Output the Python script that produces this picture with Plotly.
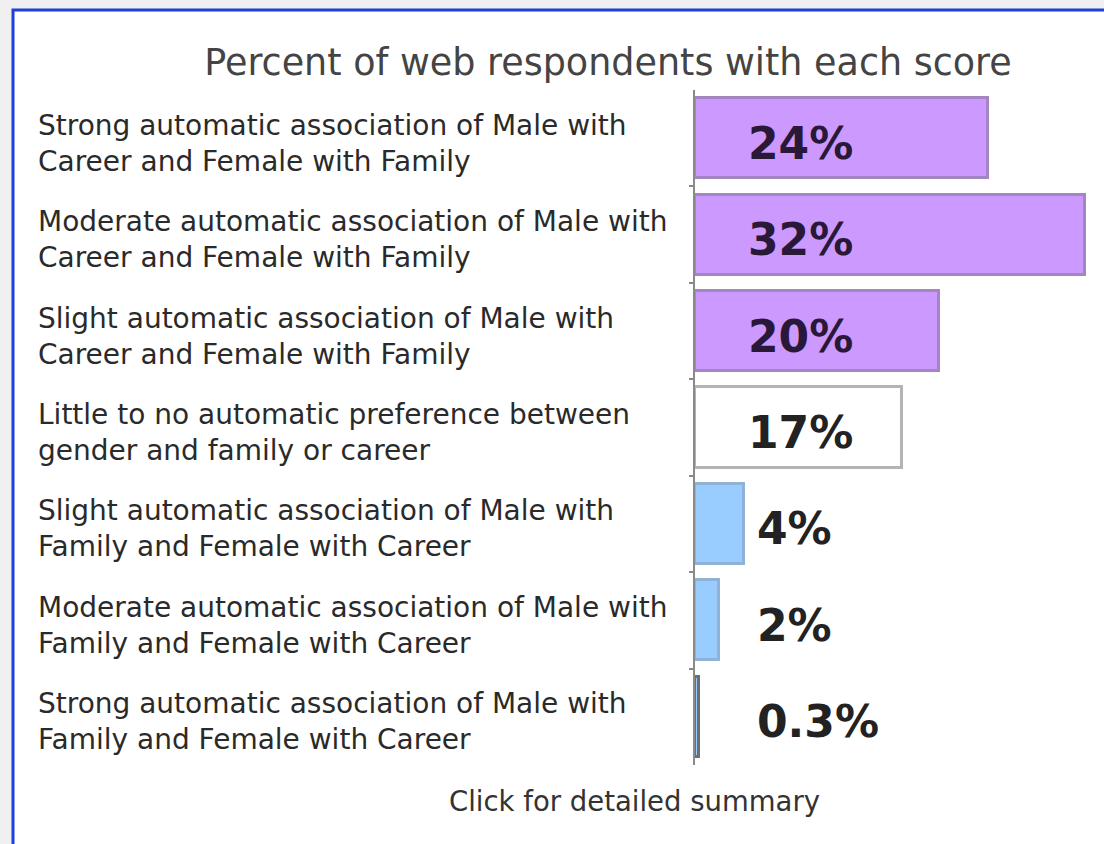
import plotly.graph_objects as go

# Score categories (top to bottom), each split onto two lines
categories = [
    "Strong automatic association of Male with<br>Career and Female with Family",
    "Moderate automatic association of Male with<br>Career and Female with Family",
    "Slight automatic association of Male with<br>Career and Female with Family",
    "Little to no automatic preference between<br>gender and family or career",
    "Slight automatic association of Male with<br>Family and Female with Career",
    "Moderate automatic association of Male with<br>Family and Female with Career",
    "Strong automatic association of Male with<br>Family and Female with Career",
]
percents = [24, 32, 20, 17, 4, 2, 0.3]
value_labels = ["24%", "32%", "20%", "17%", "4%", "2%", "0.3%"]

fill_colors = ["#cc99ff", "#cc99ff", "#cc99ff", "#ffffff", "#99ccff", "#99ccff", "#99ccff"]
edge_colors = ["#a385c2", "#a385c2", "#a385c2", "#b4b4b4", "#8fb2d6", "#8fb2d6", "#6e6e6e"]
label_colors = ["#2a1838", "#2a1838", "#2a1838", "#222222", "#222222", "#222222", "#222222"]

W, H = 1104, 844
M_L, M_R, M_T, M_B = 695, 9, 90, 79
PLOT_W = W - M_L - M_R
PLOT_H = H - M_T - M_B
PX_PER_PCT = 12.2

def px_to_paper_x(px):
    return (px - M_L) / PLOT_W

def px_to_paper_y(py):
    return (H - M_B - py) / PLOT_H

rows = list(range(len(categories)))

fig = go.Figure()
fig.add_trace(go.Bar(
    x=percents,
    y=rows,
    orientation="h",
    width=0.83,
    marker=dict(color=fill_colors, line=dict(color=edge_colors, width=3)),
    hoverinfo="skip",
    showlegend=False,
))

annotations = []
# category labels, left-aligned at the frame's inner margin
for i, cat in enumerate(categories):
    annotations.append(dict(
        x=px_to_paper_x(36), xref="paper", xanchor="left",
        y=i, yref="y", yanchor="middle", yshift=-5,
        text=cat, align="left", showarrow=False,
        font=dict(family="DejaVu Sans", size=28, color="#2a2a2a"),
    ))
# percentage labels: inside the long bars, just past the short ones
for i, (v, lab) in enumerate(zip(percents, value_labels)):
    annotations.append(dict(
        x=4.2 if v >= 10 else 4.9, xref="x", xanchor="left",
        y=i, yref="y", yanchor="middle", yshift=-5,
        text=lab, showarrow=False,
        font=dict(family="DejaVu Sans", size=44, color=label_colors[i], weight="bold"),
    ))
# footer link text
annotations.append(dict(
    x=px_to_paper_x(634), xref="paper", xanchor="center",
    y=px_to_paper_y(801), yref="paper", yanchor="middle",
    text="Click for detailed summary", showarrow=False,
    font=dict(family="DejaVu Sans", size=27.5, color="#333333"),
))

# page frame: light grey surround with a blue-edged white panel
shapes = [dict(
    type="rect", xref="paper", yref="paper", layer="below",
    x0=px_to_paper_x(13), x1=px_to_paper_x(W + 20),
    y0=px_to_paper_y(H + 20), y1=px_to_paper_y(10),
    fillcolor="white", line=dict(color="#1f3fd8", width=3),
)]

fig.update_layout(
    width=W, height=H,
    margin=dict(l=M_L, r=M_R, t=M_T, b=M_B),
    paper_bgcolor="#f0f0f0",
    plot_bgcolor="rgba(0,0,0,0)",
    title=dict(
        text="Percent of web respondents with each score",
        xref="container", x=608 / W, xanchor="center",
        yref="container", y=1 - 62 / H, yanchor="middle",
        font=dict(family="DejaVu Sans", size=36.5, color="#444444"),
    ),
    xaxis=dict(range=[0, PLOT_W / PX_PER_PCT], visible=False, fixedrange=True),
    yaxis=dict(
        range=[len(categories) - 0.5, -0.5],
        tickvals=[r + 0.5 for r in rows[:-1]],
        showticklabels=False, ticks="outside", ticklen=4, tickwidth=1.5,
        tickcolor="#888888", showline=True, linecolor="#8a8a8a", linewidth=2,
        showgrid=False, zeroline=False, fixedrange=True,
    ),
    annotations=annotations,
    shapes=shapes,
    bargap=0,
)

fig.write_html("out.html")
